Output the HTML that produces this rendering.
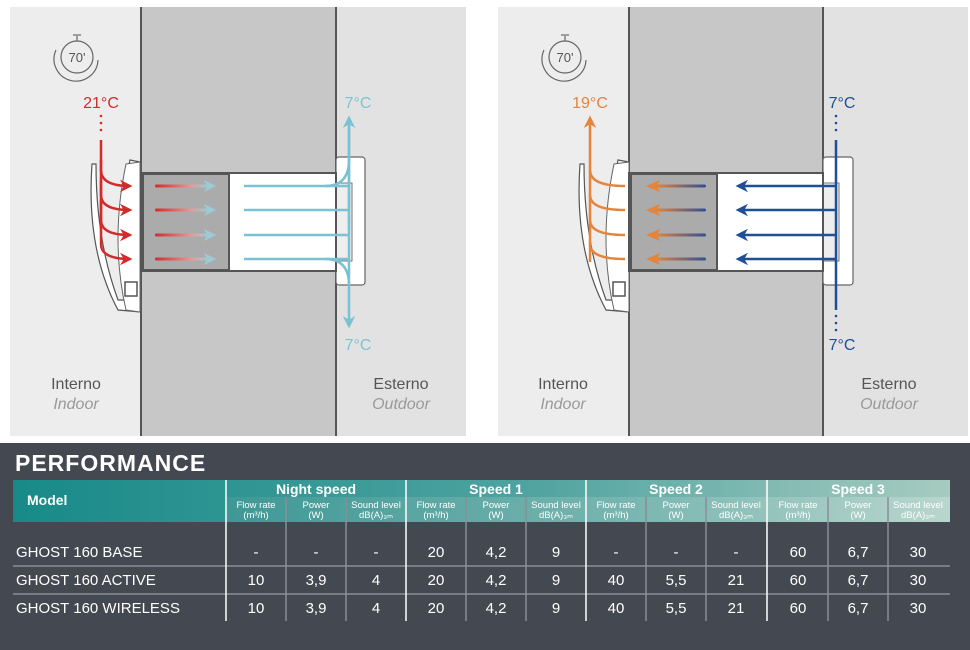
<!DOCTYPE html>
<html><head><meta charset="utf-8"><style>
body{margin:0;width:970px;height:650px;background:#fff;overflow:hidden;font-family:"Liberation Sans",sans-serif}
svg{position:absolute;left:0;top:0}
</style></head><body>
<svg width="970" height="650" viewBox="0 0 970 650" font-family="Liberation Sans, sans-serif">
<defs>
<linearGradient id="rb" x1="0" x2="1"><stop offset="0" stop-color="#d42a2a"/><stop offset="0.7" stop-color="#e49a9a"/><stop offset="1" stop-color="#9ccbd6"/></linearGradient>
<linearGradient id="ob" x1="0" x2="1"><stop offset="0" stop-color="#e5843a"/><stop offset="1" stop-color="#2f4f96"/></linearGradient>
<linearGradient id="hd" x1="0" x2="1"><stop offset="0" stop-color="#178a88"/><stop offset="0.55" stop-color="#4fa3a0"/><stop offset="1" stop-color="#a6cbc0"/></linearGradient>
<linearGradient id="hs" x1="0" x2="1"><stop offset="0" stop-color="#3e9896"/><stop offset="0.55" stop-color="#78b5b0"/><stop offset="1" stop-color="#b9d6cd"/></linearGradient>
<marker id="ar" viewBox="0 0 10 10" refX="8" refY="5" markerWidth="5" markerHeight="5" orient="auto"><path d="M0,0L10,5L0,10L3,5z" fill="#d42a2a"/></marker>
<marker id="ac" viewBox="0 0 10 10" refX="8" refY="5" markerWidth="5" markerHeight="5" orient="auto"><path d="M0,0L10,5L0,10L3,5z" fill="#79c1d3"/></marker>
<marker id="ao" viewBox="0 0 10 10" refX="8" refY="5" markerWidth="5" markerHeight="5" orient="auto"><path d="M0,0L10,5L0,10L3,5z" fill="#e5843a"/></marker>
<marker id="ad" viewBox="0 0 10 10" refX="8" refY="5" markerWidth="5" markerHeight="5" orient="auto"><path d="M0,0L10,5L0,10L3,5z" fill="#1f4f96"/></marker>
</defs>

<!-- LEFT PANEL -->
<rect x="10" y="7" width="130" height="429" fill="#ededed"/>
<rect x="336" y="7" width="130" height="429" fill="#e2e2e2"/>
<rect x="141" y="7" width="195" height="429" fill="#c7c7c7"/>
<line x1="141" y1="7" x2="141" y2="436" stroke="#555" stroke-width="2"/>
<line x1="336" y1="7" x2="336" y2="436" stroke="#555" stroke-width="2"/>
<path d="M92,164 Q86,250 118,310 L140,312 L140,162 L130,160 Q115,230 130,300 L118,300 Q96,240 96,164 Z" fill="#fff" stroke="#555" stroke-width="1.2"/>
<path d="M126,164 L140,162 L140,312 L126,310 Q110,240 126,164Z" fill="#fff" stroke="#666" stroke-width="1"/>
<rect x="125" y="282" width="12" height="14" fill="#fff" stroke="#555" stroke-width="1.5"/>
<rect x="336" y="157" width="29" height="128" rx="3" fill="#fff" stroke="#666" stroke-width="1.2"/>
<rect x="336" y="183" width="16" height="78" fill="#eee" stroke="#777" stroke-width="1"/>
<rect x="141" y="173" width="195" height="98" fill="#fff" stroke="#555" stroke-width="2"/>
<rect x="143" y="174" width="86" height="96" fill="#ababab" stroke="#555" stroke-width="2"/>
<g fill="url(#rb)">
<rect x="155" y="184.5" width="52" height="3" rx="1.5"/><rect x="155" y="208.5" width="52" height="3" rx="1.5"/><rect x="155" y="233.5" width="52" height="3" rx="1.5"/><rect x="155" y="257.5" width="52" height="3" rx="1.5"/></g>
<g fill="#9ccbd6">
<path d="M204,180L216,186L204,192L207,186z"/><path d="M204,204L216,210L204,216L207,210z"/><path d="M204,229L216,235L204,241L207,235z"/><path d="M204,253L216,259L204,265L207,259z"/></g>
<g stroke="#79c1d3" stroke-width="2.5" fill="none">
<line x1="244" y1="186" x2="349" y2="186"/><line x1="244" y1="210" x2="349" y2="210"/><line x1="244" y1="235" x2="349" y2="235"/><line x1="244" y1="259" x2="349" y2="259"/>
<path d="M325,186 Q349,186 349,160" /><path d="M325,259 Q349,259 349,285"/>
<line x1="349" y1="118" x2="349" y2="326" marker-end="url(#ac)"/>
<line x1="349" y1="230" x2="349" y2="118" marker-end="url(#ac)"/>
</g>
<g stroke="#d42a2a" stroke-width="2.5" fill="none">
<path d="M101,140 L101,170 Q101,186 130,186" marker-end="url(#ar)"/>
<path d="M101,160 L101,195 Q101,210 130,210" marker-end="url(#ar)"/>
<path d="M101,180 L101,220 Q101,235 130,235" marker-end="url(#ar)"/>
<path d="M101,200 L101,244 Q101,259 130,259" marker-end="url(#ar)"/>
</g>
<g fill="#d42a2a"><circle cx="101" cy="116" r="1.3"/><circle cx="101" cy="123" r="1.3"/><circle cx="101" cy="130" r="1.3"/></g>
<text x="101" y="108" font-size="16" fill="#d42a2a" text-anchor="middle">21°C</text>
<text x="358" y="108" font-size="16" fill="#7cc4d4" text-anchor="middle">7°C</text>
<text x="358" y="350" font-size="16" fill="#7cc4d4" text-anchor="middle">7°C</text>
<text x="76" y="389" font-size="16" fill="#555" text-anchor="middle">Interno</text>
<text x="76" y="409" font-size="16" fill="#999" font-style="italic" text-anchor="middle">Indoor</text>
<text x="401" y="389" font-size="16" fill="#555" text-anchor="middle">Esterno</text>
<text x="401" y="409" font-size="16" fill="#999" font-style="italic" text-anchor="middle">Outdoor</text>
<g fill="none" stroke="#666" stroke-width="1.2">
<circle cx="77" cy="57" r="16"/><path d="M56,50 A22,22 0 1 0 98,60"/><line x1="77" y1="41" x2="77" y2="36"/><line x1="73" y1="35" x2="81" y2="35"/></g>
<text x="77" y="62" font-size="13" fill="#555" text-anchor="middle">70'</text>

<!-- RIGHT PANEL -->
<rect x="498" y="7" width="131" height="429" fill="#ededed"/>
<rect x="823" y="7" width="145" height="429" fill="#e2e2e2"/>
<rect x="629" y="7" width="194" height="429" fill="#c7c7c7"/>
<line x1="629" y1="7" x2="629" y2="436" stroke="#555" stroke-width="2"/>
<line x1="823" y1="7" x2="823" y2="436" stroke="#555" stroke-width="2"/>
<path d="M580,164 Q574,250 606,310 L629,312 L629,162 L618,160 Q603,230 618,300 L606,300 Q584,240 584,164 Z" fill="#fff" stroke="#555" stroke-width="1.2"/>
<path d="M614,164 L629,162 L629,312 L614,310 Q598,240 614,164Z" fill="#fff" stroke="#666" stroke-width="1"/>
<rect x="613" y="282" width="12" height="14" fill="#fff" stroke="#555" stroke-width="1.5"/>
<rect x="823" y="157" width="30" height="128" rx="3" fill="#fff" stroke="#666" stroke-width="1.2"/>
<rect x="823" y="183" width="16" height="78" fill="#eee" stroke="#777" stroke-width="1"/>
<rect x="629" y="173" width="194" height="98" fill="#fff" stroke="#555" stroke-width="2"/>
<rect x="631" y="174" width="86" height="96" fill="#ababab" stroke="#555" stroke-width="2"/>
<g fill="url(#ob)">
<rect x="656" y="184.5" width="50" height="3" rx="1.5"/><rect x="656" y="208.5" width="50" height="3" rx="1.5"/><rect x="656" y="233.5" width="50" height="3" rx="1.5"/><rect x="656" y="257.5" width="50" height="3" rx="1.5"/></g>
<g fill="#e5843a">
<path d="M660,180L646,186L660,192L657,186z"/><path d="M660,204L646,210L660,216L657,210z"/><path d="M660,229L646,235L660,241L657,235z"/><path d="M660,253L646,259L660,265L657,259z"/></g>
<g stroke="#1f4f96" stroke-width="2.5" fill="none">
<line x1="836" y1="186" x2="738" y2="186" marker-end="url(#ad)"/><line x1="836" y1="210" x2="738" y2="210" marker-end="url(#ad)"/><line x1="836" y1="235" x2="738" y2="235" marker-end="url(#ad)"/><line x1="836" y1="259" x2="738" y2="259" marker-end="url(#ad)"/>
<line x1="836" y1="140" x2="836" y2="310"/>
</g>
<g fill="#1f4f96"><circle cx="836" cy="116" r="1.3"/><circle cx="836" cy="123" r="1.3"/><circle cx="836" cy="130" r="1.3"/><circle cx="836" cy="316" r="1.3"/><circle cx="836" cy="323" r="1.3"/><circle cx="836" cy="330" r="1.3"/></g>
<g stroke="#e5843a" stroke-width="2.5" fill="none">
<line x1="590" y1="262" x2="590" y2="118" marker-end="url(#ao)"/>
<path d="M590,170 Q590,186 625,186"/><path d="M590,195 Q590,210 625,210"/><path d="M590,220 Q590,235 625,235"/><path d="M590,244 Q590,259 625,259"/>
</g>
<text x="590" y="108" font-size="16" fill="#e5843a" text-anchor="middle">19°C</text>
<text x="842" y="108" font-size="16" fill="#1f4f96" text-anchor="middle">7°C</text>
<text x="842" y="350" font-size="16" fill="#1f4f96" text-anchor="middle">7°C</text>
<text x="563" y="389" font-size="16" fill="#555" text-anchor="middle">Interno</text>
<text x="563" y="409" font-size="16" fill="#999" font-style="italic" text-anchor="middle">Indoor</text>
<text x="889" y="389" font-size="16" fill="#555" text-anchor="middle">Esterno</text>
<text x="889" y="409" font-size="16" fill="#999" font-style="italic" text-anchor="middle">Outdoor</text>
<g fill="none" stroke="#666" stroke-width="1.2">
<circle cx="565" cy="57" r="16"/><path d="M544,50 A22,22 0 1 0 586,60"/><line x1="565" y1="41" x2="565" y2="36"/><line x1="561" y1="35" x2="569" y2="35"/></g>
<text x="565" y="62" font-size="13" fill="#555" text-anchor="middle">70'</text>

<!-- TABLE -->
<rect x="0" y="443" width="970" height="207" fill="#444851"/>
<text x="15" y="471" font-size="23" font-weight="bold" fill="#fff" letter-spacing="1">PERFORMANCE</text>
<rect x="13" y="480" width="937" height="42" fill="url(#hd)"/>
<rect x="226" y="497" width="724" height="25" fill="url(#hs)"/>
<text x="27" y="505" font-size="14" font-weight="bold" fill="#fff">Model</text>
<g font-size="14" font-weight="bold" fill="#fff" text-anchor="middle">
<text x="316" y="494">Night speed</text><text x="496" y="494">Speed 1</text><text x="676" y="494">Speed 2</text><text x="858" y="494">Speed 3</text></g>
<g font-size="9.5" fill="#fff" text-anchor="middle">
<text x="256" y="508">Flow rate</text><text x="256" y="518">(m³/h)</text><text x="316" y="508">Power</text><text x="316" y="518">(W)</text><text x="376" y="508">Sound level</text><text x="376" y="518">dB(A)₃ₘ</text>
<text x="436" y="508">Flow rate</text><text x="436" y="518">(m³/h)</text><text x="496" y="508">Power</text><text x="496" y="518">(W)</text><text x="556" y="508">Sound level</text><text x="556" y="518">dB(A)₃ₘ</text>
<text x="616" y="508">Flow rate</text><text x="616" y="518">(m³/h)</text><text x="676" y="508">Power</text><text x="676" y="518">(W)</text><text x="736" y="508">Sound level</text><text x="736" y="518">dB(A)₃ₘ</text>
<text x="798" y="508">Flow rate</text><text x="798" y="518">(m³/h)</text><text x="858" y="508">Power</text><text x="858" y="518">(W)</text><text x="918" y="508">Sound level</text><text x="918" y="518">dB(A)₃ₘ</text></g>
<g stroke="#8a8e96" stroke-width="1.5">
<line x1="13" y1="566" x2="950" y2="566"/><line x1="13" y1="594" x2="950" y2="594"/>
<line x1="286" y1="497" x2="286" y2="621"/><line x1="346" y1="497" x2="346" y2="621"/>
<line x1="466" y1="497" x2="466" y2="621"/><line x1="526" y1="497" x2="526" y2="621"/>
<line x1="646" y1="497" x2="646" y2="621"/><line x1="706" y1="497" x2="706" y2="621"/>
<line x1="828" y1="497" x2="828" y2="621"/><line x1="888" y1="497" x2="888" y2="621"/></g>
<g stroke="#fff" stroke-width="1.5">
<line x1="226" y1="480" x2="226" y2="621"/><line x1="406" y1="480" x2="406" y2="621"/><line x1="586" y1="480" x2="586" y2="621"/><line x1="767" y1="480" x2="767" y2="621"/></g>
<g font-size="15" fill="#fff">
<text x="16" y="557">GHOST 160 BASE</text><text x="16" y="585">GHOST 160 ACTIVE</text><text x="16" y="613">GHOST 160 WIRELESS</text></g>
<g font-size="15" fill="#fff" text-anchor="middle">
<text x="256" y="557">-</text><text x="316" y="557">-</text><text x="376" y="557">-</text><text x="436" y="557">20</text><text x="496" y="557">4,2</text><text x="556" y="557">9</text><text x="616" y="557">-</text><text x="676" y="557">-</text><text x="736" y="557">-</text><text x="798" y="557">60</text><text x="858" y="557">6,7</text><text x="918" y="557">30</text>
<text x="256" y="585">10</text><text x="316" y="585">3,9</text><text x="376" y="585">4</text><text x="436" y="585">20</text><text x="496" y="585">4,2</text><text x="556" y="585">9</text><text x="616" y="585">40</text><text x="676" y="585">5,5</text><text x="736" y="585">21</text><text x="798" y="585">60</text><text x="858" y="585">6,7</text><text x="918" y="585">30</text>
<text x="256" y="613">10</text><text x="316" y="613">3,9</text><text x="376" y="613">4</text><text x="436" y="613">20</text><text x="496" y="613">4,2</text><text x="556" y="613">9</text><text x="616" y="613">40</text><text x="676" y="613">5,5</text><text x="736" y="613">21</text><text x="798" y="613">60</text><text x="858" y="613">6,7</text><text x="918" y="613">30</text></g>
</svg>
</body></html>
